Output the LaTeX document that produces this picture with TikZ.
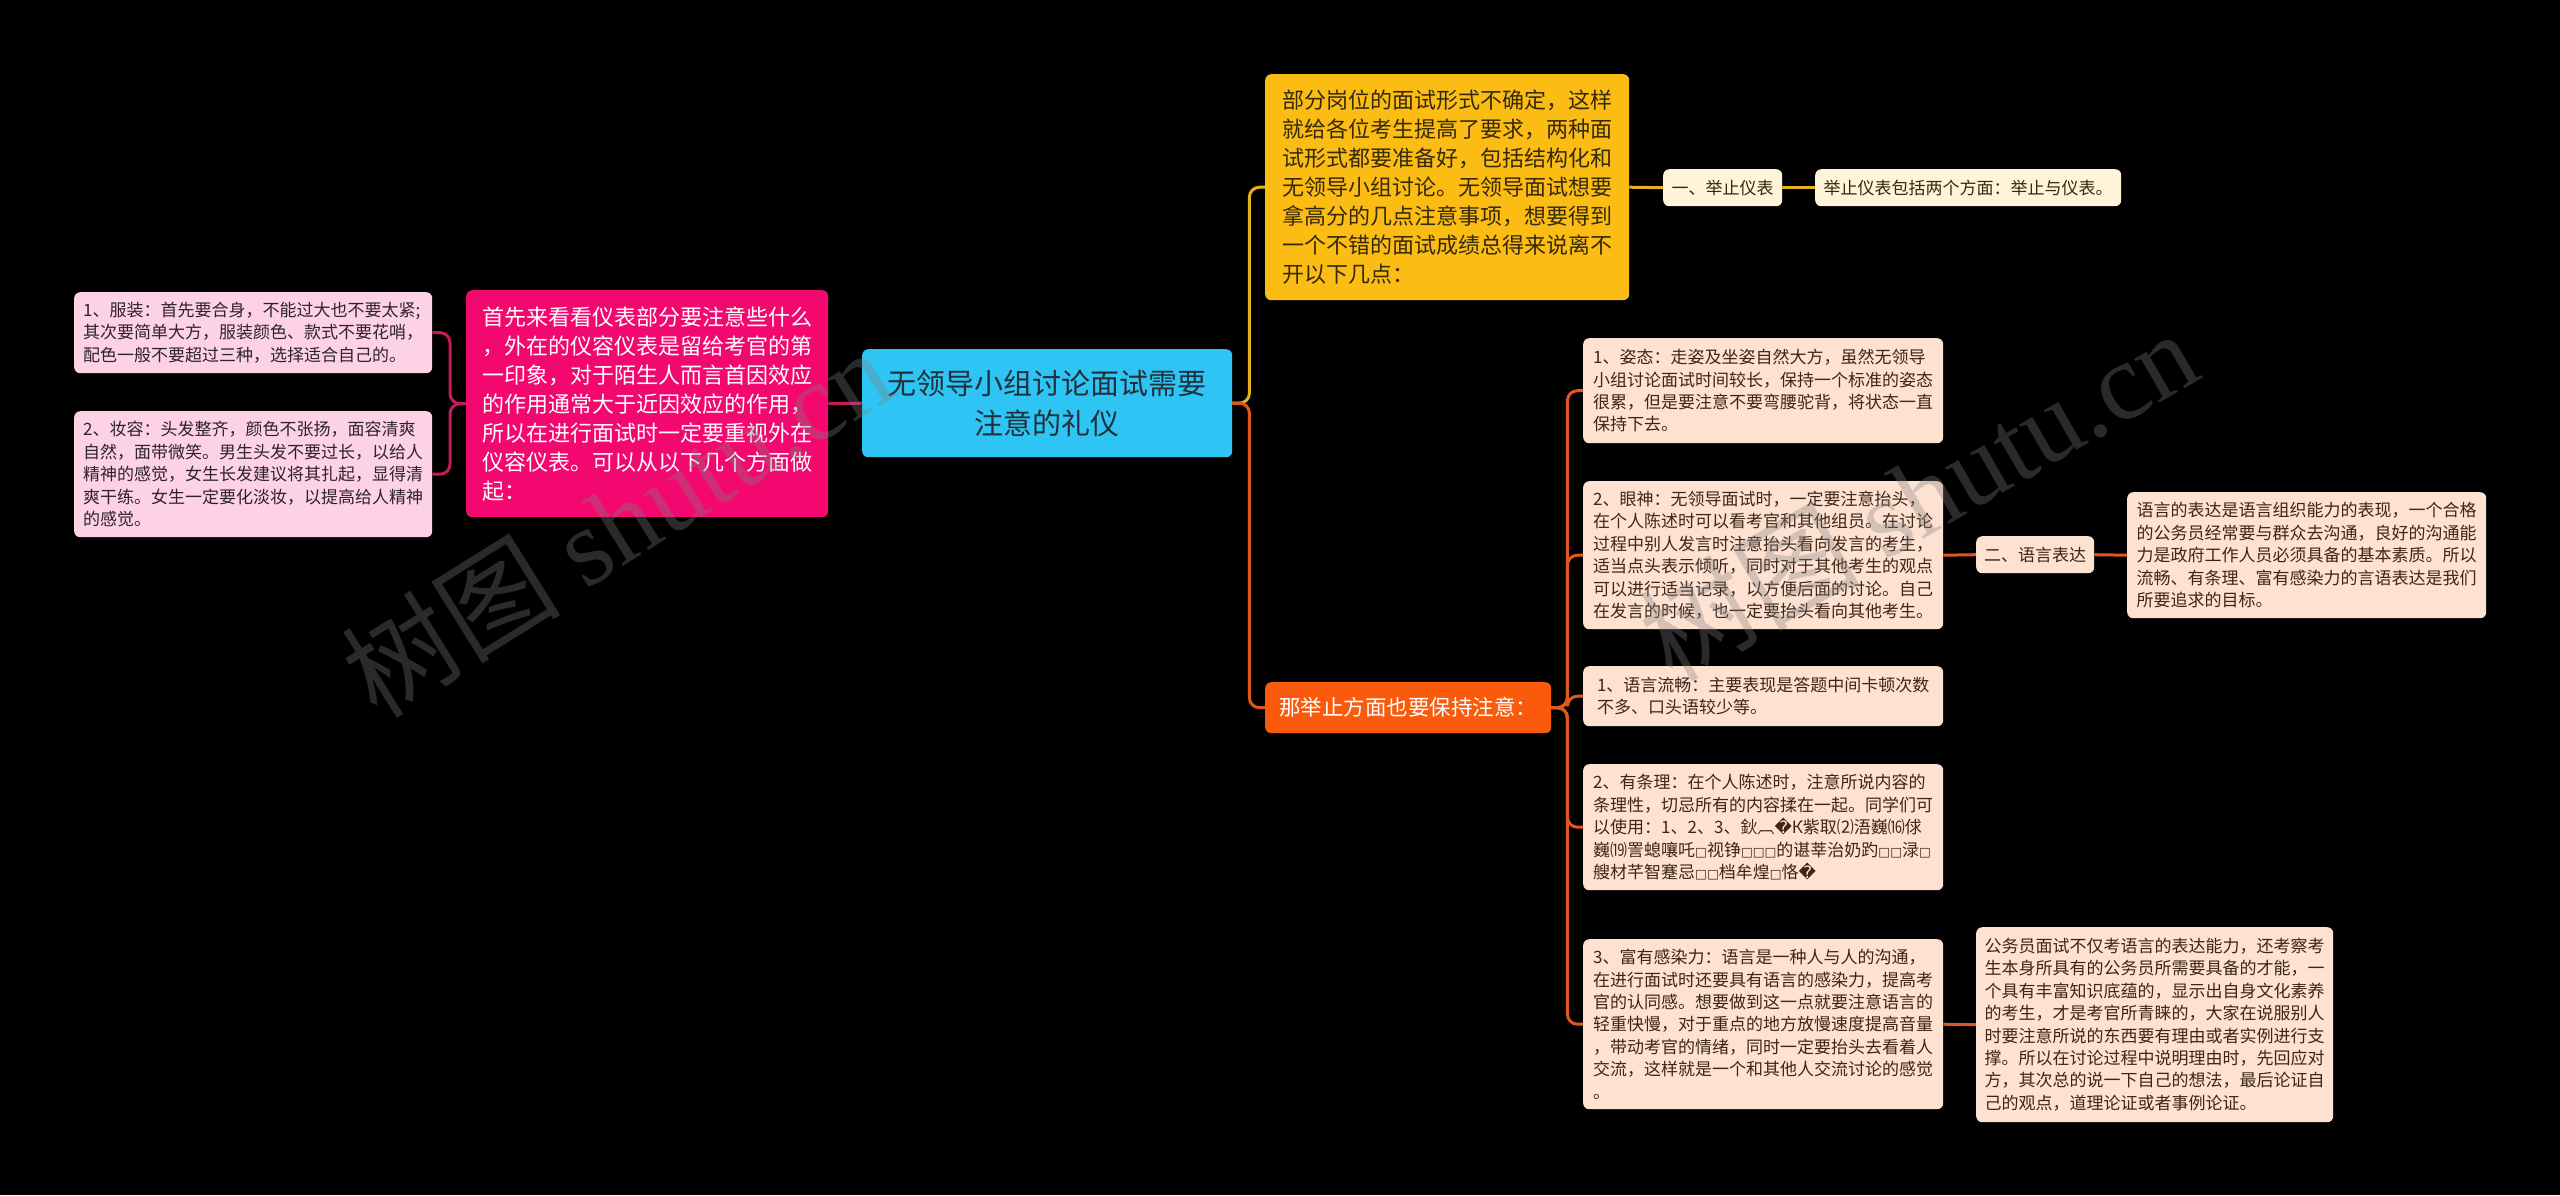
\documentclass[tikz,border=0pt]{standalone}
\usepackage{fontspec}
\setmainfont{Noto Sans CJK SC}
\newfontfamily\symfont{DejaVu Sans}
\newfontfamily\wmserif{Liberation Serif}
\newcommand\tofubox{{\symfont\fontsize{12.5}{12.5}\selectfont □}}
\newcommand\replchar{{\symfont �}}
\usetikzlibrary{calc}
\definecolor{bluec}{HTML}{2EC4F3}
\definecolor{pinkmain}{HTML}{F2086F}
\definecolor{pinkleaf}{HTML}{FDD2E6}
\definecolor{pinkline}{HTML}{C8195F}
\definecolor{yellowmain}{HTML}{FBBD14}
\definecolor{yellowline}{HTML}{E3B21C}
\definecolor{creamc}{HTML}{FFF4D8}
\definecolor{orangemain}{HTML}{FA5A0C}
\definecolor{orangeline}{HTML}{E0581C}
\definecolor{peachc}{HTML}{FDE2D2}
\definecolor{centertext}{HTML}{22303C}
\definecolor{darktext}{HTML}{2E2328}
\definecolor{yellowtext}{HTML}{35290A}
\definecolor{browntext}{HTML}{3E2516}
\tikzset{
  box/.style={rounded corners=6pt, inner sep=0pt, align=left, anchor=north west},
  leaffont/.style={font=\fontsize{17}{22.4}\selectfont},
  bigfont/.style={font=\fontsize{22}{29}\selectfont},
  pinkleafbox/.style={box, leaffont, fill=pinkleaf, text=darktext},
  peachbox/.style={box, leaffont, fill=peachc, text=browntext},
  creambox/.style={box, leaffont, fill=creamc, text=yellowtext},
  conn/.style={line width=3pt, rounded corners=10pt},
  pinkconn/.style={conn, draw=pinkline},
  yconn/.style={conn, draw=yellowline},
  oconn/.style={conn, draw=orangeline},
  wm/.style={text=gray, opacity=0.33, font=\fontsize{110}{120}\selectfont}
}
\begin{document}
\begin{tikzpicture}[x=1pt, y=-1pt]
\useasboundingbox (0,0) rectangle (2560,1195);
\fill[black] (0,0) rectangle (2560,1195);

% left branch
\node[pinkleafbox, minimum width=358pt, minimum height=81pt] (pl1) at (74,292)
{1、服装：首先要合身，不能过大也不要太紧;\\
其次要简单大方，服装颜色、款式不要花哨，\\
配色一般不要超过三种，选择适合自己的。};
\node[pinkleafbox, minimum width=358pt, minimum height=126pt] (pl2) at (74,411)
{2、妆容：头发整齐，颜色不张扬，面容清爽\\
自然，面带微笑。男生头发不要过长，以给人\\
精神的感觉，女生长发建议将其扎起，显得清\\
爽干练。女生一定要化淡妆，以提高给人精神\\
的感觉。};
\node[box, bigfont, fill=pinkmain, text=white, minimum width=362pt, minimum height=227pt] (pm) at (466,290)
{首先来看看仪表部分要注意些什么\\
，外在的仪容仪表是留给考官的第\\
一印象，对于陌生人而言首因效应\\
的作用通常大于近因效应的作用，\\
所以在进行面试时一定要重视外在\\
仪容仪表。可以从以下几个方面做\\
起：};

% center
\node[box, align=center, font=\fontsize{29}{40}\selectfont, fill=bluec, text=centertext, minimum width=370pt, minimum height=108pt] (ctr) at (862,349)
{无领导小组讨论面试需要\\注意的礼仪};

% top branch
\node[box, bigfont, fill=yellowmain, text=yellowtext, minimum width=364pt, minimum height=226pt] (yel) at (1265,74)
{部分岗位的面试形式不确定，这样\\
就给各位考生提高了要求，两种面\\
试形式都要准备好，包括结构化和\\
无领导小组讨论。无领导面试想要\\
拿高分的几点注意事项，想要得到\\
一个不错的面试成绩总得来说离不\\
开以下几点：};
\node[creambox, minimum width=119pt, minimum height=37pt] (jz) at (1663,169) {一、举止仪表};
\node[creambox, minimum width=306pt, minimum height=37pt] (jzb) at (1815,169) {举止仪表包括两个方面：举止与仪表。};

% bottom branch
\node[box, font=\fontsize{21.5}{28}\selectfont, fill=orangemain, text=white, minimum width=286pt, minimum height=51pt] (ora) at (1265,682)
{那举止方面也要保持注意：};
\node[peachbox, minimum width=360pt, minimum height=105pt] (zt) at (1583,338)
{1、姿态：走姿及坐姿自然大方，虽然无领导\\
小组讨论面试时间较长，保持一个标准的姿态\\
很累，但是要注意不要弯腰驼背，将状态一直\\
保持下去。};
\node[peachbox, minimum width=360pt, minimum height=148pt] (ys) at (1583,481)
{2、眼神：无领导面试时，一定要注意抬头，\\
在个人陈述时可以看考官和其他组员。在讨论\\
过程中别人发言时注意抬头看向发言的考生，\\
适当点头表示倾听，同时对于其他考生的观点\\
可以进行适当记录，以方便后面的讨论。自己\\
在发言的时候，也一定要抬头看向其他考生。};
\node[peachbox, minimum width=118pt, minimum height=37pt] (yb) at (1976,536) {二、语言表达};
\node[peachbox, minimum width=359pt, minimum height=126pt] (ybd) at (2127,492)
{语言的表达是语言组织能力的表现，一个合格\\
的公务员经常要与群众去沟通，良好的沟通能\\
力是政府工作人员必须具备的基本素质。所以\\
流畅、有条理、富有感染力的言语表达是我们\\
所要追求的目标。};
\node[peachbox, minimum width=360pt, minimum height=60pt] (lc) at (1583,666)
{1、语言流畅：主要表现是答题中间卡顿次数\\
不多、口头语较少等。};
\node[peachbox, minimum width=360pt, minimum height=126pt] (tl) at (1583,764)
{2、有条理：在个人陈述时，注意所说内容的\\
条理性，切忌所有的内容揉在一起。同学们可\\
以使用：1、2、3、鈥︹\replchar К紫取⑵浯巍⒃俅\\
巍⒆詈螅嚷吒\tofubox 视铮\tofubox\tofubox\tofubox 的谌莘治奶趵\tofubox\tofubox 渌\tofubox\\
艘材芊智蹇忌\tofubox\tofubox 档牟煌\tofubox 恪\replchar};
\node[peachbox, minimum width=360pt, minimum height=170pt] (gr) at (1583,939)
{3、富有感染力：语言是一种人与人的沟通，\\
在进行面试时还要具有语言的感染力，提高考\\
官的认同感。想要做到这一点就要注意语言的\\
轻重快慢，对于重点的地方放慢速度提高音量\\
，带动考官的情绪，同时一定要抬头去看着人\\
交流，这样就是一个和其他人交流讨论的感觉\\
。};
\node[peachbox, minimum width=357pt, minimum height=195pt] (gwy) at (1976,927)
{公务员面试不仅考语言的表达能力，还考察考\\
生本身所具有的公务员所需要具备的才能，一\\
个具有丰富知识底蕴的，显示出自身文化素养\\
的考生，才是考官所青睐的，大家在说服别人\\
时要注意所说的东西要有理由或者实例进行支\\
撑。所以在讨论过程中说明理由时，先回应对\\
方，其次总的说一下自己的想法，最后论证自\\
己的观点，道理论证或者事例论证。};

% connectors
\draw[pinkconn] (ctr.west) -- (pm.east);
\draw[pinkconn] (pm.west) -- ++(-16,0) |- (pl1.east);
\draw[pinkconn] (pm.west) -- ++(-16,0) |- (pl2.east);
\draw[yconn] (ctr.east) -- ++(17,0) |- (yel.west);
\draw[oconn] (ctr.east) -- ++(17,0) |- (ora.west);
\draw[yconn] (yel.east) -- (jz.west);
\draw[yconn] (jz.east) -- (jzb.west);
\draw[oconn] (ora.east) -- ++(16,0) |- (zt.west);
\draw[oconn] (ora.east) -- ++(16,0) |- (ys.west);
\draw[oconn] (ora.east) -- ++(16,0) |- (lc.west);
\draw[oconn] (ora.east) -- ++(16,0) |- (tl.west);
\draw[oconn] (ora.east) -- ++(16,0) |- (gr.west);
\draw[oconn] (ys.east) -- (yb.west);
\draw[oconn] (yb.east) -- (ybd.west);
\draw[oconn] (gr.east) -- (gwy.west);

% watermarks
\node[wm, rotate=32] (wm1) at (616,522) {树图 {\wmserif shutu.cn}};
\node[wm, rotate=30] (wm2) at (1918,494) {树图 {\wmserif shutu.cn}};
\end{tikzpicture}
\end{document}
